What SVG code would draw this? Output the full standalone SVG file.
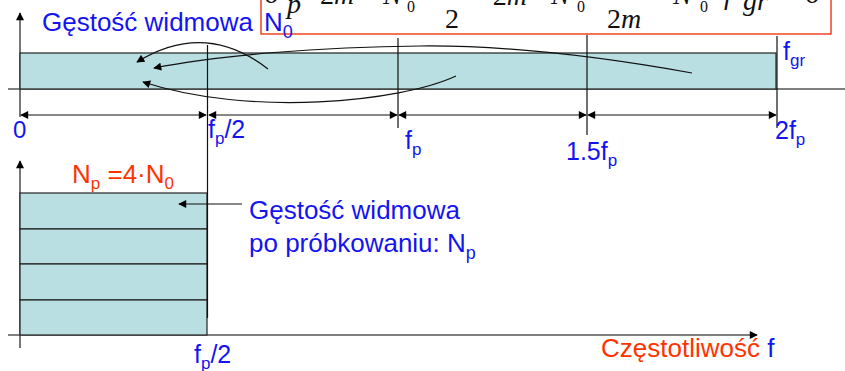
<svg xmlns="http://www.w3.org/2000/svg" width="845" height="371" viewBox="0 0 845 371">
<style>
.lbl{font-family:"Liberation Sans",Arial,sans-serif;fill:#1414f0}
.red{font-family:"Liberation Sans",Arial,sans-serif;fill:#ff3300}
.eq{font-family:"Liberation Serif","Times New Roman",serif;fill:#111;font-size:28px}
.sub{font-size:16px}
.it{font-style:italic}
.band{fill:#badfe2;stroke:#222;stroke-width:1.2}
.ax{stroke:#555;stroke-width:1.6;fill:none}
.tk{stroke:#111;stroke-width:1.2;fill:none}
.cv{stroke:#111;stroke-width:1.2;fill:none}
</style>
<defs>
<marker id="ah" viewBox="0 0 10 10" refX="9" refY="5" markerWidth="9" markerHeight="8" markerUnits="userSpaceOnUse" orient="auto-start-reverse">
<path d="M0,0 L10,5 L0,10 Z" fill="#000"/>
</marker>
</defs>

<g id="formula">
<rect x="261" y="-20" width="570" height="54" fill="#fff" stroke="#ee4422" stroke-width="1.5"/>
<text class="eq" x="264" y="3">σ</text>
<text class="eq it" x="287" y="13" font-size="18">p</text>
<text class="eq" x="303" y="5">=</text>
<text class="eq" x="320" y="4">2<tspan class="it">m</tspan> ·</text>
<text class="eq it" x="383" y="4">N</text>
<text class="eq sub" x="407" y="12">0</text>
<text class="eq" x="445" y="28">2</text>
<text class="eq" x="470" y="5">= 2<tspan class="it">m</tspan> ·</text>
<text class="eq it" x="551" y="4">N</text>
<text class="eq sub" x="577" y="12">0</text>
<text class="eq" x="607" y="28">2<tspan class="it">m</tspan></text>
<text class="eq" x="650" y="5">=</text>
<text class="eq it" x="673" y="4">N</text>
<text class="eq sub" x="700" y="12">0</text>
<text class="eq it" x="724" y="4">f</text>
<text class="eq it" x="743" y="10" font-size="17">gr</text>
<text class="eq" x="772" y="5">=</text>
<text class="eq" x="805" y="3">σ</text>
</g>

<g id="axes">
<line class="ax" x1="8" y1="89" x2="845" y2="89"/>
<line class="ax" x1="20" y1="117" x2="20" y2="13" marker-end="url(#ah)"/>
<line class="ax" x1="8" y1="335" x2="757" y2="335" marker-end="url(#ah)"/>
<line class="ax" x1="20" y1="348" x2="20" y2="161" marker-end="url(#ah)"/>
</g>

<g id="band-top">
<rect class="band" x="20" y="53" width="756" height="36"/>
</g>

<g id="band-bottom">
<rect class="band" x="20" y="193" width="187" height="36"/>
<rect class="band" x="20" y="229" width="187" height="35"/>
<rect class="band" x="20" y="264" width="187" height="36"/>
<rect class="band" x="20" y="300" width="187" height="35"/>
</g>

<g id="ticks">
<line class="tk" x1="207.5" y1="45" x2="207.5" y2="318"/>
<line class="tk" x1="398" y1="38" x2="398" y2="128"/>
<line class="tk" x1="587" y1="35" x2="587" y2="135"/>
<line class="tk" x1="777" y1="36" x2="777" y2="128"/>
</g>

<g id="connectors">
<line class="tk" x1="21" y1="115" x2="206" y2="115" marker-start="url(#ah)" marker-end="url(#ah)"/>
<line class="tk" x1="209" y1="115" x2="397" y2="115" marker-start="url(#ah)" marker-end="url(#ah)"/>
<line class="tk" x1="399" y1="115" x2="586" y2="115" marker-start="url(#ah)" marker-end="url(#ah)"/>
<line class="tk" x1="588" y1="115" x2="776" y2="115" marker-start="url(#ah)" marker-end="url(#ah)"/>
<path class="cv" d="M268,69 Q205,20 137,62" marker-end="url(#ah)"/>
<path class="cv" d="M692,73 C620,60 520,45 420,46 C320,47 220,55 154,68" marker-end="url(#ah)"/>
<path class="cv" d="M456,76 C400,102 250,117 143,82" marker-end="url(#ah)"/>
<line class="tk" x1="242" y1="204" x2="179" y2="204" marker-end="url(#ah)"/>
</g>

<g id="labels">
<text class="lbl" x="42" y="31" font-size="26">Gęstość widmowa<tspan x="264">N</tspan><tspan font-size="18" dy="7">0</tspan></text>
<text class="lbl" x="783" y="60" font-size="25">f<tspan font-size="17" dy="6">gr</tspan></text>
<text class="lbl" x="13" y="138" font-size="24">0</text>
<text class="lbl" x="208" y="138" font-size="25">f<tspan font-size="17" dy="6">p</tspan><tspan dy="-6">/2</tspan></text>
<text class="lbl" x="405" y="149" font-size="25">f<tspan font-size="17" dy="6">p</tspan></text>
<text class="lbl" x="566" y="160" font-size="25">1.5f<tspan font-size="17" dy="6">p</tspan></text>
<text class="lbl" x="775" y="139" font-size="25">2f<tspan font-size="17" dy="6">p</tspan></text>
<text class="red" x="72" y="183" font-size="26">N<tspan font-size="17" dy="6">p</tspan><tspan dy="-6"> =4·N</tspan><tspan font-size="17" dy="6">0</tspan></text>
<text class="lbl" x="249" y="219" font-size="26">Gęstość widmowa</text>
<text class="lbl" x="249" y="252" font-size="26">po próbkowaniu: N<tspan font-size="18" dy="7">p</tspan></text>
<text class="lbl" x="194" y="363" font-size="25">f<tspan font-size="17" dy="6">p</tspan><tspan dy="-6">/2</tspan></text>
<text class="red" x="601" y="357" font-size="26">Częstotliwość <tspan fill="#1414f0">f</tspan></text>
</g>
</svg>
